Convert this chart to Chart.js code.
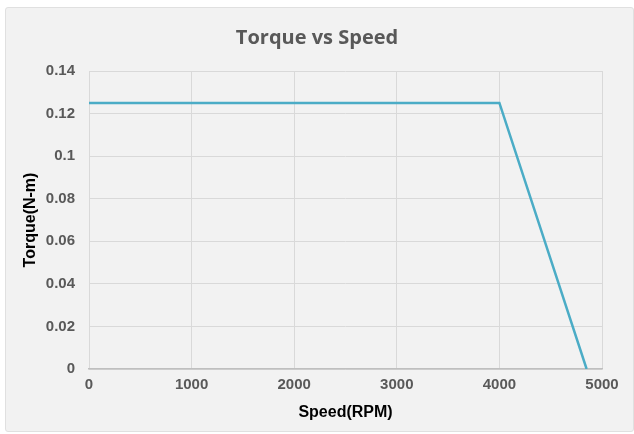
<!DOCTYPE html>
<html>
<head>
<meta charset="utf-8">
<script src="https://cdn.jsdelivr.net/npm/chart.js@4.4.1/dist/chart.umd.min.js"></script>
<style>
  html, body { margin: 0; padding: 0; background: #ffffff; }
  .wrap { position: relative; width: 634px; height: 434px; }
  .card {
    position: absolute; left: 5px; top: 7px; right: 0; bottom: 2px;
    background: #f2f2f2; border: 1px solid #e0e0e0; border-radius: 3px;
  }
  canvas { position: absolute; left: 0; top: 0; }
</style>
</head>
<body>
<div class="wrap">
  <div class="card"></div>
  <canvas id="torqueChart" width="634" height="434"></canvas>
</div>
<script>
    // --- DADOS ---
    const speedRpm = [0, 4000, 4850];
    const torqueNm = [0.125, 0.125, 0];
    const xTicks = [0, 1000, 2000, 3000, 4000, 5000];
    const yTicks = [0, 0.02, 0.04, 0.06, 0.08, 0.1, 0.12, 0.14];

    const tickFont = { family: "'Liberation Sans Narrow', 'Arial Narrow', Arial, sans-serif", size: 15, weight: 'bold' };
    const titleFont = { family: "'Liberation Sans Narrow', 'Arial Narrow', Arial, sans-serif", size: 16, weight: 'bold' };

    const points = speedRpm.map((s, i) => ({ x: s, y: torqueNm[i] }));

    const ctx = document.getElementById('torqueChart').getContext('2d');
    new Chart(ctx, {
        type: 'scatter',
        data: {
            datasets: [{
                label: 'Torque',
                data: points,
                showLine: true,
                borderColor: '#4bacc6',
                borderWidth: 2.5,
                pointRadius: 0,
                fill: false,
                tension: 0
            }]
        },
        options: {
            responsive: false,
            animation: false,
            layout: { padding: 0 },
            plugins: {
                legend: { display: false },
                tooltip: { enabled: false },
                title: {
                    display: true,
                    text: 'Torque vs Speed',
                    color: '#595959',
                    font: { family: "'Open Sans', sans-serif", size: 20, weight: 'bold' },
                    padding: { top: 26, bottom: 21 }
                }
            },
            scales: {
                x: {
                    type: 'linear',
                    min: 0,
                    max: 5000,
                    afterBuildTicks: scale => { scale.ticks = xTicks.map(v => ({ value: v })); },
                    afterFit: scale => { scale.height = 65; },
                    grid: { color: '#d9d9d9', lineWidth: 1, drawTicks: false },
                    border: { color: '#bfbfbf', width: 1.5 },
                    ticks: { color: '#595959', font: tickFont, padding: 7, maxRotation: 0, callback: v => String(v) },
                    title: {
                        display: true,
                        text: 'Speed(RPM)',
                        color: '#000000',
                        font: titleFont,
                        padding: { top: 0, bottom: 12 }
                    }
                },
                y: {
                    type: 'linear',
                    min: 0,
                    max: 0.14,
                    afterBuildTicks: scale => { scale.ticks = yTicks.map(v => ({ value: v })); },
                    afterFit: scale => { scale.width = 89; },
                    grid: { color: '#d9d9d9', lineWidth: 1, drawTicks: false },
                    border: { display: false },
                    ticks: {
                        color: '#595959',
                        font: tickFont,
                        padding: 14,
                        callback: v => String(Math.round(v * 100) / 100)
                    },
                    title: {
                        display: true,
                        text: 'Torque(N-m)',
                        color: '#000000',
                        font: titleFont,
                        padding: { top: 21, bottom: 0 }
                    }
                },
                // margem direita vazia (só espaço)
                yRight: {
                    type: 'linear',
                    position: 'right',
                    min: 0,
                    max: 1,
                    afterFit: scale => { scale.width = 32; },
                    grid: { display: false, drawTicks: false },
                    border: { display: false },
                    ticks: { display: false }
                }
            }
        }
    });
</script>
</body>
</html>
